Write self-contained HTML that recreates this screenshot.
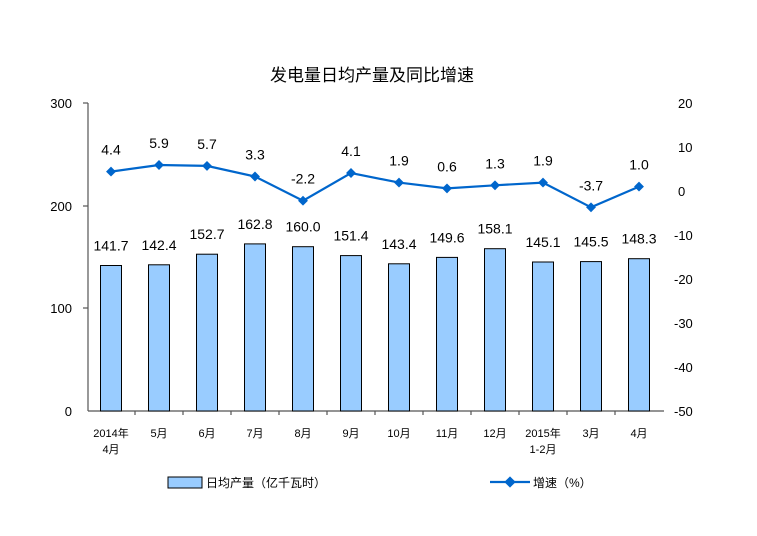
<!DOCTYPE html>
<html><head><meta charset="utf-8"><style>
body{margin:0;background:#fff;}
svg text{font-family:"Liberation Sans","Noto Sans CJK SC",sans-serif;}
</style></head><body>
<svg width="757" height="531" viewBox="0 0 757 531" xmlns="http://www.w3.org/2000/svg">
<rect width="757" height="531" fill="#fff"/>
<text x="372" y="81" font-size="17" text-anchor="middle" fill="#000">发电量日均产量及同比增速</text>
<g stroke="#555" stroke-width="1.2" fill="none">
<line x1="88" y1="103" x2="88" y2="411"/>
<line x1="83" y1="103" x2="88" y2="103"/>
<line x1="83" y1="206" x2="88" y2="206"/>
<line x1="83" y1="308" x2="88" y2="308"/>
<line x1="88" y1="411" x2="664" y2="411"/>
<path d="M135 411v4M183 411v4M231 411v4M279 411v4M327 411v4M375 411v4M423 411v4M471 411v4M519 411v4M567 411v4M615 411v4"/>
</g>
<g font-size="13" fill="#000" text-anchor="end">
<text x="72" y="108">300</text><text x="72" y="211">200</text><text x="72" y="313">100</text><text x="72" y="416">0</text>
</g>
<g font-size="13" fill="#000" text-anchor="start">
<text x="678" y="108">20</text><text x="678" y="152">10</text><text x="678" y="196">0</text>
<text x="674" y="240">-10</text><text x="674" y="284">-20</text><text x="674" y="328">-30</text>
<text x="674" y="372">-40</text><text x="674" y="416">-50</text>
</g>
<g fill="#99ccff" stroke="#000" stroke-width="1">
<rect x="100.5" y="265.5" width="21" height="145.5"/>
<rect x="148.5" y="264.8" width="21" height="146.2"/>
<rect x="196.5" y="254.2" width="21" height="156.8"/>
<rect x="244.5" y="243.9" width="21" height="167.1"/>
<rect x="292.5" y="246.7" width="21" height="164.3"/>
<rect x="340.5" y="255.6" width="21" height="155.4"/>
<rect x="388.5" y="263.8" width="21" height="147.2"/>
<rect x="436.5" y="257.4" width="21" height="153.6"/>
<rect x="484.5" y="248.7" width="21" height="162.3"/>
<rect x="532.5" y="262.0" width="21" height="149"/>
<rect x="580.5" y="261.6" width="21" height="149.4"/>
<rect x="628.5" y="258.7" width="21" height="152.3"/>
</g>
<g font-size="14" text-anchor="middle" fill="#000">
<text x="111" y="250.5">141.7</text><text x="159" y="249.8">142.4</text><text x="207" y="239.2">152.7</text>
<text x="255" y="228.9">162.8</text><text x="303" y="231.7">160.0</text><text x="351" y="240.6">151.4</text>
<text x="399" y="248.8">143.4</text><text x="447" y="242.4">149.6</text><text x="495" y="233.7">158.1</text>
<text x="543" y="247">145.1</text><text x="591" y="246.6">145.5</text><text x="639" y="243.7">148.3</text>
</g>
<polyline fill="none" stroke="#0066cc" stroke-width="2.2" points="111,171.6 159,165 207,165.9 255,176.5 303,200.7 351,173 399,182.6 447,188.4 495,185.3 543,182.6 591,207.3 639,186.6"/>
<g fill="#0066cc">
<rect x="107.5" y="168.1" width="7" height="7" transform="rotate(45 111 171.6)"/>
<rect x="155.5" y="161.5" width="7" height="7" transform="rotate(45 159 165)"/>
<rect x="203.5" y="162.4" width="7" height="7" transform="rotate(45 207 165.9)"/>
<rect x="251.5" y="173" width="7" height="7" transform="rotate(45 255 176.5)"/>
<rect x="299.5" y="197.2" width="7" height="7" transform="rotate(45 303 200.7)"/>
<rect x="347.5" y="169.5" width="7" height="7" transform="rotate(45 351 173)"/>
<rect x="395.5" y="179.1" width="7" height="7" transform="rotate(45 399 182.6)"/>
<rect x="443.5" y="184.9" width="7" height="7" transform="rotate(45 447 188.4)"/>
<rect x="491.5" y="181.8" width="7" height="7" transform="rotate(45 495 185.3)"/>
<rect x="539.5" y="179.1" width="7" height="7" transform="rotate(45 543 182.6)"/>
<rect x="587.5" y="203.8" width="7" height="7" transform="rotate(45 591 207.3)"/>
<rect x="635.5" y="183.1" width="7" height="7" transform="rotate(45 639 186.6)"/>
</g>
<g font-size="14" text-anchor="middle" fill="#000">
<text x="111" y="154.6">4.4</text><text x="159" y="148">5.9</text><text x="207" y="148.9">5.7</text>
<text x="255" y="159.5">3.3</text><text x="303" y="183.7">-2.2</text><text x="351" y="156">4.1</text>
<text x="399" y="165.6">1.9</text><text x="447" y="171.4">0.6</text><text x="495" y="168.3">1.3</text>
<text x="543" y="165.6">1.9</text><text x="591" y="190.3">-3.7</text><text x="639" y="169.6">1.0</text>
</g>
<g font-size="11" text-anchor="middle" fill="#000">
<text x="111" y="437">2014年</text><text x="111" y="453">4月</text>
<text x="159" y="437">5月</text><text x="207" y="437">6月</text><text x="255" y="437">7月</text>
<text x="303" y="437">8月</text><text x="351" y="437">9月</text><text x="399" y="437">10月</text>
<text x="447" y="437">11月</text><text x="495" y="437">12月</text>
<text x="543" y="437">2015年</text><text x="543" y="453">1-2月</text>
<text x="591" y="437">3月</text><text x="639" y="437">4月</text>
</g>
<rect x="168" y="477" width="34" height="11" fill="#99ccff" stroke="#000" stroke-width="1"/>
<text x="206" y="487" font-size="12" fill="#000">日均产量（亿千瓦时）</text>
<line x1="490" y1="482" x2="530" y2="482" stroke="#0066cc" stroke-width="2.2"/>
<rect x="506" y="478" width="8" height="8" fill="#0066cc" transform="rotate(45 510 482)"/>
<text x="533" y="487" font-size="12" fill="#000">增速（%）</text>
</svg>
</body></html>
